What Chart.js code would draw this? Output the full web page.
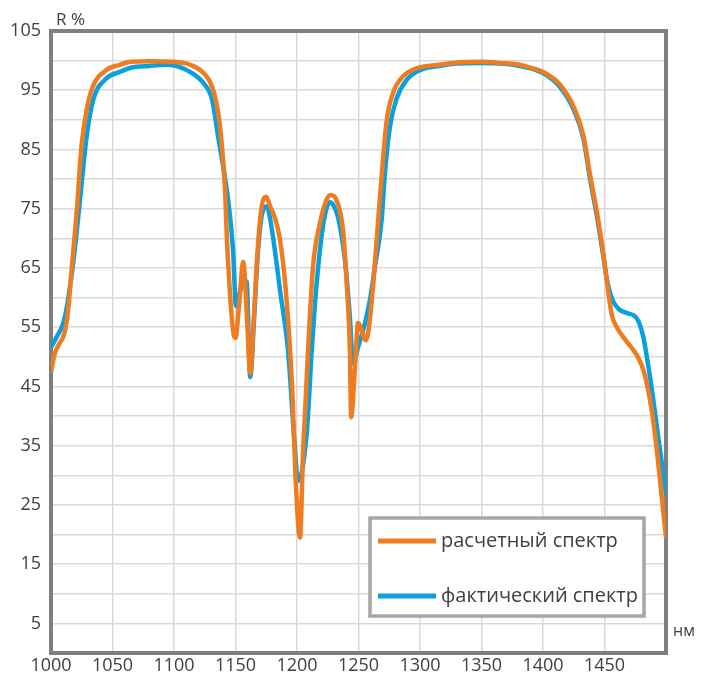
<!DOCTYPE html>
<html>
<head>
<meta charset="utf-8">
<script src="https://cdn.jsdelivr.net/npm/chart.js@4.4.1/dist/chart.umd.min.js"></script>
<style>
  body { margin: 0; background: #fff; }
  #wrap { width: 708px; height: 674px; }
</style>
</head>
<body>
<div id="wrap"><canvas id="spectrumChart" width="708" height="674"></canvas></div>
<script>
// wavelength (nm) and reflectance (R %)
const nmCalc = [1000, 1003, 1007, 1010, 1013, 1017, 1021, 1025, 1029, 1034, 1045, 1056, 1065, 1080, 1100,
    1113, 1124, 1131, 1136, 1139, 1141.5, 1143, 1148, 1150, 1153, 1156.3, 1159, 1162, 1165, 1168,
    1171, 1175, 1178, 1182, 1186, 1191, 1196, 1199.2, 1202.4, 1205, 1209, 1213, 1218.7, 1224, 1227.4,
    1232, 1237.4, 1240.4, 1243, 1244, 1247.2, 1249.6, 1256, 1258.5, 1262, 1266, 1269, 1273, 1278,
    1286, 1297, 1316, 1330, 1350, 1365, 1381, 1390, 1400, 1414, 1425, 1433, 1438, 1444, 1449,
    1453, 1456, 1460, 1465, 1471, 1477, 1482, 1487, 1491, 1494, 1497, 1500];
const rCalc = [47.4, 50.5, 52.3, 53.4, 56.2, 65.2, 74.8, 86, 91.7, 95.6, 98.4, 99.3, 99.8, 99.9, 99.8,
    99.3, 97.9, 95.6, 91.1, 85.5, 78.2, 70, 54.5, 53.2, 59, 66, 58, 47.2, 57, 68,
    75, 77, 75.5, 73.5, 70, 61, 45, 28, 19.5, 34.2, 51.1, 65.2, 72.6, 76.5, 77.3,
    76.5, 71.4, 62.4, 51.1, 39.8, 48.3, 55.7, 52.8, 55, 62.4, 73.1, 81, 90, 94.5,
    97.3, 98.7, 99.3, 99.7, 99.8, 99.6, 99.3, 98.8, 98.1, 95.9, 92.2, 87.2, 81, 74.2, 67.5,
    61, 57, 55, 53.4, 51.8, 50, 47.5, 42.7, 37, 31.4, 25.5, 19.5];

const nmFact = [1000, 1005, 1008.7, 1011.4, 1018, 1023.6, 1029, 1034.4, 1045, 1056, 1065, 1080, 1095,
    1113, 1124, 1131, 1136, 1140, 1144, 1148, 1150.4, 1153, 1156, 1159, 1162, 1165, 1168, 1172,
    1175.6, 1178, 1182, 1186.2, 1192.7, 1198.4, 1200.8, 1207.9, 1212, 1216, 1221, 1226.8, 1229,
    1233.3, 1239, 1243, 1245.5, 1249.6, 1255.3, 1259.3, 1263.4, 1268.8, 1271.5, 1275.6, 1281, 1289,
    1300, 1316, 1330, 1350, 1365, 1381, 1400, 1414, 1425, 1433, 1438, 1444, 1449, 1452, 1455,
    1458, 1462, 1468, 1475, 1478, 1481.5, 1486, 1489.7, 1494, 1497, 1500];
const rFact = [51.6, 53.5, 55, 56.8, 65.8, 76.5, 87.2, 93.4, 97, 98.1, 98.8, 99.1, 99.3,
    98.1, 96.2, 93.4, 87, 82.1, 76.5, 68, 58.6, 60.5, 62.5, 62.7, 46.6, 56, 67, 74.5,
    75.4, 73.5, 68, 61.2, 51.1, 34.2, 29, 37.1, 51.1, 62.4, 71.9, 76.1, 75.8,
    73.6, 66.3, 56.7, 48.9, 51.6, 55.7, 59.6, 65.2, 73.1, 81, 88.9, 93.6, 96.7,
    98.4, 99.1, 99.5, 99.6, 99.5, 99.1, 97.9, 95.5, 91.7, 86.7, 80.3, 73.5, 67, 63, 60.5,
    59, 58, 57.4, 56.8, 55.8, 53.4, 48, 42.7, 36, 31.5, 26.8];

const seriesNames = ['расчетный спектр', 'фактический спектр'];
const yTitle = 'R %';
const xTitle = 'нм';

const toPoints = (xs, ys) => xs.map((x, i) => ({ x: x, y: ys[i] }));

const FONT = '"Open Sans", "Noto Sans", sans-serif';
const TEXT = '#404040';
const AXIS = '#7f7f7f';

// frame, axis captions and the boxed legend
const decor = {
    id: 'decor',
    beforeDatasetsDraw(chart) {
        const { ctx, chartArea: a } = chart;
        ctx.save();
        ctx.strokeStyle = AXIS;
        ctx.lineWidth = 4;
        ctx.strokeRect(a.left, a.top, a.right - a.left, a.bottom - a.top);
        ctx.restore();
    },
    afterDatasetsDraw(chart) {
        const { ctx } = chart;
        ctx.save();
        ctx.fillStyle = TEXT;
        ctx.font = '17px ' + FONT;
        ctx.textBaseline = 'middle';
        ctx.textAlign = 'left';
        ctx.fillText(yTitle, 56, 20);
        ctx.font = '16px ' + FONT;
        ctx.fillText(xTitle, 673, 631);

        // legend box
        ctx.fillStyle = '#fff';
        ctx.fillRect(370, 518, 274, 98);
        ctx.strokeStyle = '#a6a6a6';
        ctx.lineWidth = 3.5;
        ctx.strokeRect(370, 518, 274, 98);
        const rows = [541, 596];
        chart.data.datasets.forEach((ds, i) => {
            ctx.strokeStyle = ds.borderColor;
            ctx.lineWidth = 5;
            ctx.beginPath();
            ctx.moveTo(378, rows[i]);
            ctx.lineTo(436, rows[i]);
            ctx.stroke();
            ctx.fillStyle = TEXT;
            ctx.font = '20px ' + FONT;
            ctx.fillText(ds.label, 441, rows[i]);
        });
        ctx.restore();
    }
};

const ctx = document.getElementById('spectrumChart').getContext('2d');
const spectrumChart = new Chart(ctx, {
    type: 'line',
    data: {
        datasets: [{
            label: seriesNames[0],
            data: toPoints(nmCalc, rCalc),
            borderColor: '#ee7d22',
            borderWidth: 4.5,
            pointRadius: 0,
            cubicInterpolationMode: 'monotone',
            fill: false
        }, {
            label: seriesNames[1],
            data: toPoints(nmFact, rFact),
            borderColor: '#0ba0dc',
            borderWidth: 4.5,
            pointRadius: 0,
            cubicInterpolationMode: 'monotone',
            fill: false
        }]
    },
    options: {
        responsive: false,
        animation: false,
        layout: {
            padding: { top: 31, right: 42, bottom: 0, left: 0 }
        },
        plugins: {
            legend: { display: false },
            title: { display: false },
            tooltip: { enabled: false }
        },
        scales: {
            x: {
                type: 'linear',
                min: 1000,
                max: 1500,
                afterFit: (s) => { s.height = 21; },
                ticks: {
                    stepSize: 50,
                    autoSkip: false,
                    maxRotation: 0,
                    padding: 2,
                    color: TEXT,
                    font: { family: FONT, size: 18 },
                    callback: (v) => (v < 1500 ? v : '')
                },
                grid: { color: '#d9d9d9', lineWidth: 1.5, drawTicks: false },
                border: { color: AXIS, width: 4 }
            },
            y: {
                min: 0,
                max: 105,
                afterFit: (s) => { s.width = 51; },
                ticks: {
                    stepSize: 5,
                    autoSkip: false,
                    padding: 10,
                    color: TEXT,
                    font: { family: FONT, size: 18 },
                    callback: (v) => (v % 10 === 5 ? v : '')
                },
                grid: { color: '#d9d9d9', lineWidth: 1.5, drawTicks: false },
                border: { color: AXIS, width: 4 }
            }
        }
    },
    plugins: [decor]
});
</script>
</body>
</html>
